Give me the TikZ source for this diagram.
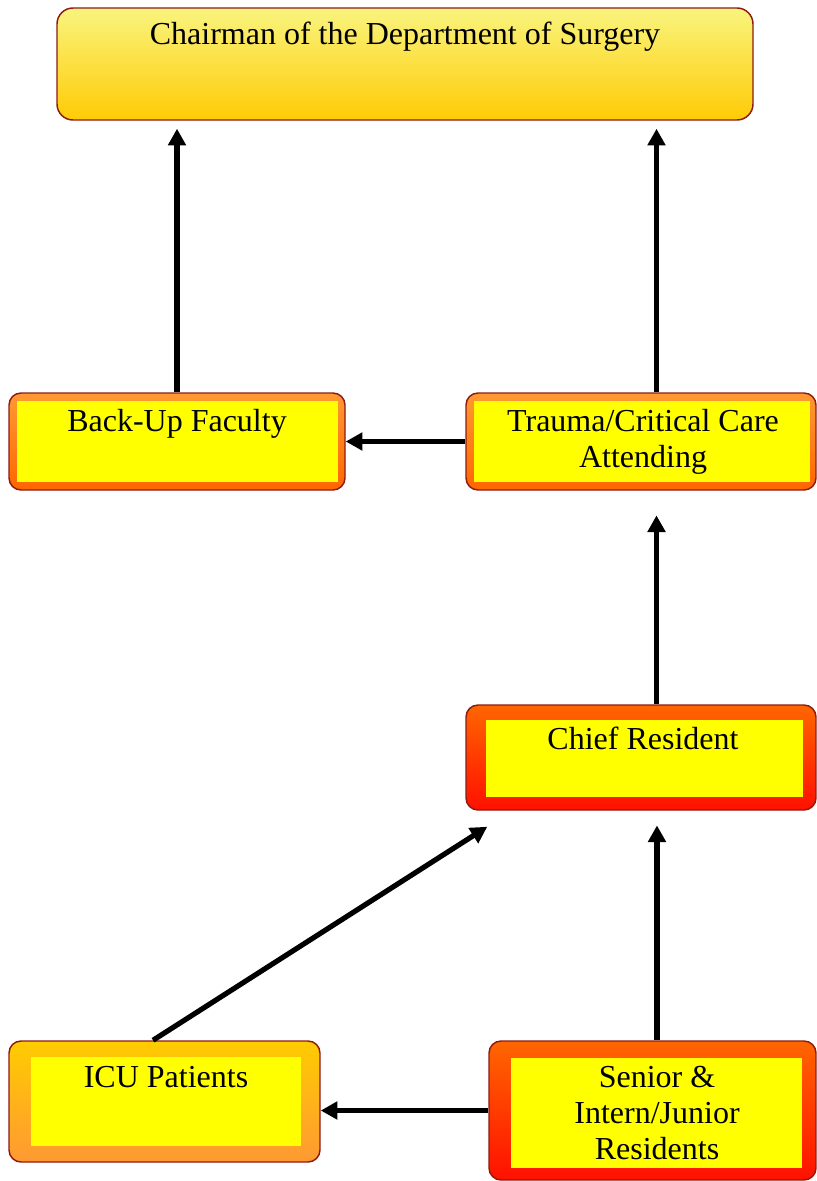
\documentclass[tikz,border=0pt]{standalone}
\usepackage{fontspec}
\setmainfont{Liberation Serif}
\usetikzlibrary{arrows.meta,fit,calc}
\definecolor{edge}{HTML}{8E1B12}
\definecolor{chairTop}{HTML}{F9F47E}
\definecolor{chairBot}{HTML}{FFCB05}
\definecolor{orngLight}{HTML}{FF9933}
\definecolor{orngDeep}{HTML}{FF6600}
\definecolor{gold}{HTML}{FFCC00}
\definecolor{redDeep}{HTML}{FF1000}
\definecolor{innerYellow}{HTML}{FFFF00}
\begin{document}
\begin{tikzpicture}[x=0.75pt,y=-0.75pt,
  box/.style={draw=edge,line width=1.1pt,rounded corners=9pt,inner sep=0pt},
  panel/.style={fill=innerYellow},
  txt/.style={font=\fontsize{24}{27.3}\selectfont,anchor=base,inner sep=0pt},
  arr/.style={line width=3.9pt,-{Triangle[length=12.5pt,width=13pt]}}]
\useasboundingbox (0,0) rectangle (817,1181);

% Chairman
\node[box,rounded corners=12pt,top color=chairTop,bottom color=chairBot,
      fit={(57,8) (753,120)}] (chair) {};
\node[txt] (tchair) at (405,45) {Chairman of the Department of Surgery};

% Back-Up Faculty
\node[box,top color=orngLight,bottom color=orngDeep,fit={(9,393) (345,490)}] (bf) {};
\fill[panel] (17,401) rectangle (338,482);
\node[txt] (tbf) at (177,431) {Back-Up Faculty};

% Trauma/Critical Care Attending
\node[box,top color=orngLight,bottom color=orngDeep,fit={(466,393) (816,490)}] (tr) {};
\fill[panel] (474,401) rectangle (810,482);
\node[txt] (ttr) at (643,431) {\begin{tabular}[t]{@{}c@{}}Trauma/Critical Care\\Attending\end{tabular}};

% Chief Resident
\node[box,top color=orngDeep,bottom color=redDeep,fit={(466,705) (816,810)}] (cr) {};
\fill[panel] (486,720) rectangle (803,797);
\node[txt] (tcr) at (643,749) {Chief Resident};

% ICU Patients
\node[box,top color=gold,bottom color=orngLight,fit={(9,1041) (320,1162)}] (icu) {};
\fill[panel] (31,1057) rectangle (301,1146);
\node[txt] (ticu) at (166,1087) {ICU Patients};

% Senior & Intern/Junior Residents
\node[box,top color=orngDeep,bottom color=redDeep,fit={(489,1041) (816,1180)}] (se) {};
\fill[panel] (511,1058) rectangle (802,1168);
\node[txt] (tse) at (657,1087) {\begin{tabular}[t]{@{}c@{}}Senior \&\\Intern/Junior\\Residents\end{tabular}};

% reporting lines
\coordinate (trT) at ($(tr.north)+(15.5,0)$);
\coordinate (crT) at ($(cr.north)+(15.5,0)$);
\coordinate (seT) at ($(se.north)+(4.5,0)$);
\coordinate (icT) at ($(icu.north)+(-11.5,0)$);
\coordinate (crIn) at ($(cr.south west)+(22,16)$);

\draw[arr,shorten >=6pt] (bf.north) -- (bf.north |- chair.south);
\draw[arr,shorten >=6pt] (trT) -- (trT |- chair.south);
\draw[arr] (tr.west) -- (bf.east);
\draw[arr,shorten >=18.5pt] (crT) -- (crT |- tr.south);
\draw[arr,shorten >=11pt] (seT) -- (seT |- cr.south);
\draw[arr] (icT) -- (crIn);
\draw[arr] (se.west) -- (icu.east |- se.west);
\end{tikzpicture}
\end{document}
